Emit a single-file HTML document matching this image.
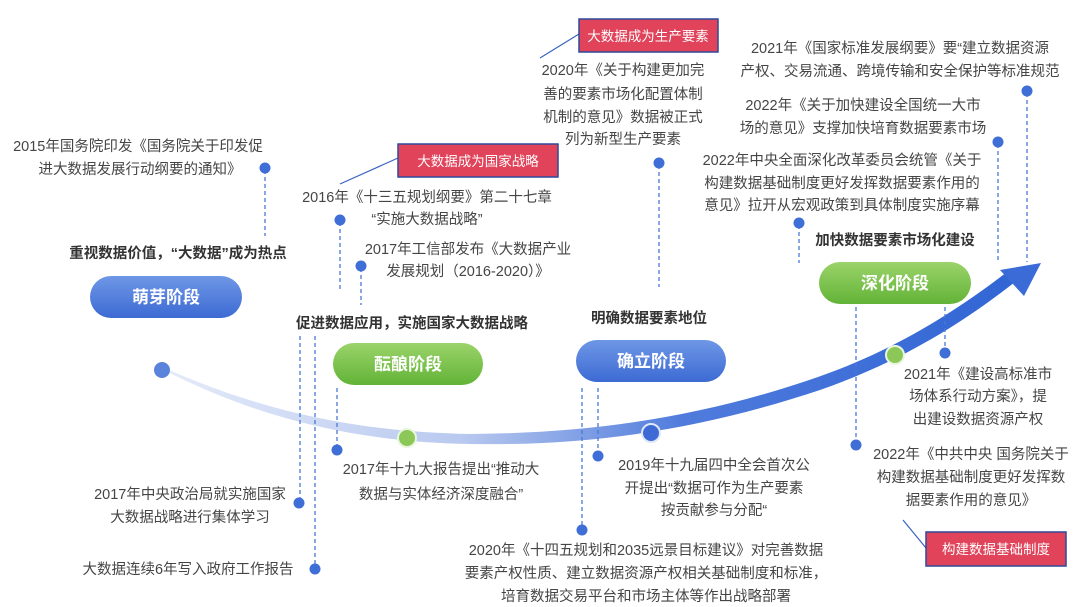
<!DOCTYPE html>
<html><head><meta charset="utf-8"><style>
html,body{margin:0;padding:0;background:#fff;}
svg{display:block;font-family:"Liberation Sans","Noto Sans CJK SC",sans-serif;}
.t{font-size:14.5px;fill:#454545;}
.b{font-size:14.5px;fill:#333;font-weight:bold;}
.d{stroke:#4a78d6;stroke-width:1.3;stroke-dasharray:4 3;fill:none;}
.dot{fill:#3f6fd6;}
</style></head><body>
<svg width="1080" height="607" viewBox="0 0 1080 607">
<defs>
<linearGradient id="cg" x1="150" y1="0" x2="1040" y2="0" gradientUnits="userSpaceOnUse">
<stop offset="0" stop-color="#e6ecf9"/><stop offset="0.35" stop-color="#b9c9ef"/><stop offset="0.6" stop-color="#4f7bdc"/><stop offset="1" stop-color="#2f64d4"/>
</linearGradient>
<linearGradient id="bp" x1="0" y1="0" x2="0" y2="1"><stop offset="0" stop-color="#6f97e6"/><stop offset="1" stop-color="#3c6ad3"/></linearGradient>
<linearGradient id="gp" x1="0" y1="0" x2="0" y2="1"><stop offset="0" stop-color="#9bd36a"/><stop offset="1" stop-color="#62b337"/></linearGradient>
</defs>
<!-- curve -->
<path d="M160,368 C260,420 360,442 470,444 C590,446 700,430 820,390 C900,362 960,325 1015,282 L1007,272 C955,312 895,350 818,377 C700,418 590,433 470,434 C360,432 262,412 160,366 Z" fill="url(#cg)"/>
<polygon points="1041,263 1000,270 1024,296" fill="#3a6bd6"/>
<!-- dashed lines -->
<path class="d" d="M265,170 V236 M340,222 V290 M361,268 V305 M300,336 V503 M315,336 V569 M337,388 V450 M598,388 V456 M582,388 V530 M856,300 V445 M945,300 V353 M1027,93 V262 M998,144 V262 M799,225 V263 M659,165 V287"/>
<!-- connectors to red boxes -->
<path d="M579,34 L540,58 M398,158 L340,184 M926,548 L903,520" stroke="#3a64c0" stroke-width="1.2" fill="none"/>
<!-- dots -->
<g class="dot">
<circle cx="265" cy="168" r="5.5"/><circle cx="340" cy="220" r="5.5"/><circle cx="361" cy="266" r="5.5"/>
<circle cx="299" cy="503" r="5.5"/><circle cx="315" cy="569" r="5.5"/><circle cx="337" cy="450" r="5.5"/>
<circle cx="598" cy="456" r="5.5"/><circle cx="582" cy="530" r="5.5"/><circle cx="856" cy="445" r="5.5"/>
<circle cx="945" cy="353" r="5.5"/><circle cx="1027" cy="91" r="5.5"/><circle cx="998" cy="142" r="5.5"/>
<circle cx="799" cy="223" r="5.5"/><circle cx="659" cy="163" r="5.5"/>
</g>
<circle cx="162" cy="370" r="8" fill="#5a83dc"/>
<circle cx="407" cy="438" r="9" fill="#8bc857" stroke="#e9f5dd" stroke-width="2"/>
<circle cx="651" cy="433" r="9" fill="#3d6ad5" stroke="#dfe7f8" stroke-width="2"/>
<circle cx="895" cy="355" r="9" fill="#8bc857" stroke="#e9f5dd" stroke-width="2"/>
<!-- pills -->
<rect x="90" y="276" width="152" height="42" rx="21" fill="url(#bp)"/>
<text x="166" y="303" text-anchor="middle" font-size="17" font-weight="bold" fill="#fff">萌芽阶段</text>
<rect x="333" y="343" width="150" height="42" rx="21" fill="url(#gp)"/>
<text x="408" y="370" text-anchor="middle" font-size="17" font-weight="bold" fill="#fff">酝酿阶段</text>
<rect x="576" y="340" width="150" height="42" rx="21" fill="url(#bp)"/>
<text x="651" y="367" text-anchor="middle" font-size="17" font-weight="bold" fill="#fff">确立阶段</text>
<rect x="819" y="262" width="152" height="42" rx="21" fill="url(#gp)"/>
<text x="895" y="289" text-anchor="middle" font-size="17" font-weight="bold" fill="#fff">深化阶段</text>
<!-- red boxes -->
<rect x="579" y="19" width="139" height="33" fill="#e0435a" stroke="#2d4a9a" stroke-width="1.5"/>
<text x="648" y="41" text-anchor="middle" font-size="13.5" fill="#fff">大数据成为生产要素</text>
<rect x="398" y="144" width="160" height="33" fill="#e0435a" stroke="#2d4a9a" stroke-width="1.5"/>
<text x="478" y="166" text-anchor="middle" font-size="13.5" fill="#fff">大数据成为国家战略</text>
<rect x="926" y="532" width="140" height="34" fill="#e0435a" stroke="#2d4a9a" stroke-width="1.5"/>
<text x="996" y="554" text-anchor="middle" font-size="13.5" fill="#fff">构建数据基础制度</text>
<!-- texts -->
<g class="t">
<text x="138" y="151" text-anchor="middle">2015年国务院印发《国务院关于印发促</text>
<text x="140" y="174" text-anchor="middle">进大数据发展行动纲要的通知》</text>
<text x="427" y="202" text-anchor="middle">2016年《十三五规划纲要》第二十七章</text>
<text x="427" y="224" text-anchor="middle">“实施大数据战略”</text>
<text x="468" y="254" text-anchor="middle">2017年工信部发布《大数据产业</text>
<text x="468" y="276" text-anchor="middle">发展规划（2016-2020）》</text>
<text x="623" y="75" text-anchor="middle">2020年《关于构建更加完</text>
<text x="623" y="99" text-anchor="middle">善的要素市场化配置体制</text>
<text x="623" y="122" text-anchor="middle">机制的意见》数据被正式</text>
<text x="623" y="144" text-anchor="middle">列为新型生产要素</text>
<text x="900" y="53" text-anchor="middle">2021年《国家标准发展纲要》要“建立数据资源</text>
<text x="900" y="76" text-anchor="middle">产权、交易流通、跨境传输和安全保护等标准规范</text>
<text x="863" y="110" text-anchor="middle">2022年《关于加快建设全国统一大市</text>
<text x="863" y="133" text-anchor="middle">场的意见》支撑加快培育数据要素市场</text>
<text x="842" y="165" text-anchor="middle">2022年中央全面深化改革委员会统管《关于</text>
<text x="842" y="188" text-anchor="middle">构建数据基础制度更好发挥数据要素作用的</text>
<text x="842" y="210" text-anchor="middle">意见》拉开从宏观政策到具体制度实施序幕</text>
<text x="190" y="499" text-anchor="middle">2017年中央政治局就实施国家</text>
<text x="190" y="522" text-anchor="middle">大数据战略进行集体学习</text>
<text x="188" y="574" text-anchor="middle">大数据连续6年写入政府工作报告</text>
<text x="441" y="474" text-anchor="middle">2017年十九大报告提出“推动大</text>
<text x="441" y="499" text-anchor="middle">数据与实体经济深度融合”</text>
<text x="714" y="470" text-anchor="middle">2019年十九届四中全会首次公</text>
<text x="714" y="493" text-anchor="middle">开提出“数据可作为生产要素</text>
<text x="714" y="515" text-anchor="middle">按贡献参与分配“</text>
<text x="646" y="555" text-anchor="middle">2020年《十四五规划和2035远景目标建议》对完善数据</text>
<text x="646" y="578" text-anchor="middle">要素产权性质、建立数据资源产权相关基础制度和标准，</text>
<text x="646" y="601" text-anchor="middle">培育数据交易平台和市场主体等作出战略部署</text>
<text x="978" y="379" text-anchor="middle">2021年《建设高标准市</text>
<text x="978" y="401" text-anchor="middle">场体系行动方案》，提</text>
<text x="978" y="424" text-anchor="middle">出建设数据资源产权</text>
<text x="971" y="459" text-anchor="middle">2022年《中共中央 国务院关于</text>
<text x="971" y="482" text-anchor="middle">构建数据基础制度更好发挥数</text>
<text x="971" y="505" text-anchor="middle">据要素作用的意见》</text>
</g>
<g class="b">
<text x="178" y="258" text-anchor="middle">重视数据价值，“大数据”成为热点</text>
<text x="412" y="328" text-anchor="middle">促进数据应用，实施国家大数据战略</text>
<text x="649" y="323" text-anchor="middle">明确数据要素地位</text>
<text x="895" y="245" text-anchor="middle">加快数据要素市场化建设</text>
</g>
</svg>
</body></html>
